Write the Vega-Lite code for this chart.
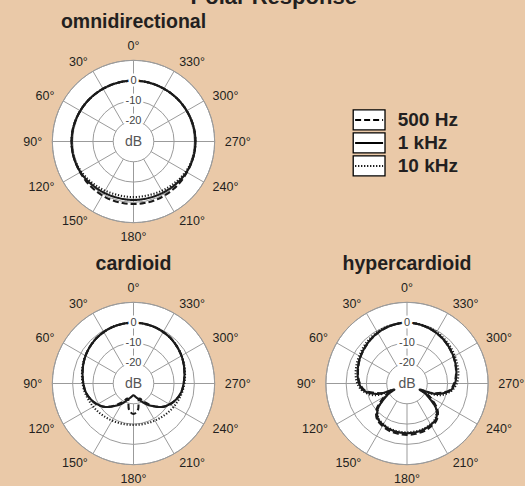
{
"$schema": "https://vega.github.io/schema/vega-lite/v6.json",
"background": "#EAC9A8",
"padding": {"left": 23, "top": -15, "right": 0, "bottom": 0},
"title": {"text": "Polar Response", "fontSize": 22, "fontWeight": "bold", "color": "#231F20", "anchor": "middle", "baseline": "alphabetic", "offset": -14},
"config": {"view": {"stroke": null}, "font": "Liberation Sans"},
"columns": 2,
"bounds": "flush",
"spacing": {"row": 31, "column": 62.5},
"datasets": {
"rings": [{"level": 10}, {"level": 0}, {"level": -10}, {"level": -20}],
"spokes": [{"angle": 0}, {"angle": 30}, {"angle": 60}, {"angle": 90}, {"angle": 120}, {"angle": 150}, {"angle": 180}, {"angle": 210}, {"angle": 240}, {"angle": 270}, {"angle": 300}, {"angle": 330}],
"angles": [{"angle": 0, "label": "0°"}, {"angle": 30, "label": "30°"}, {"angle": 60, "label": "60°"}, {"angle": 90, "label": "90°"}, {"angle": 120, "label": "120°"}, {"angle": 150, "label": "150°"}, {"angle": 180, "label": "180°"}, {"angle": 210, "label": "210°"}, {"angle": 240, "label": "240°"}, {"angle": 270, "label": "270°"}, {"angle": 300, "label": "300°"}, {"angle": 330, "label": "330°"}],
"levels": [{"level": 0, "text": "0"}, {"level": -10, "text": "-10"}, {"level": -20, "text": "-20"}],
"keys": [{"freq": "500 Hz"}, {"freq": "1 kHz"}, {"freq": "10 kHz"}],
"curves": [
{"pattern":"omni","freq":"500 Hz","angle":0,"dB":0},{"pattern":"omni","freq":"500 Hz","angle":10,"dB":0},{"pattern":"omni","freq":"500 Hz","angle":20,"dB":0},{"pattern":"omni","freq":"500 Hz","angle":30,"dB":0},{"pattern":"omni","freq":"500 Hz","angle":40,"dB":0.1},{"pattern":"omni","freq":"500 Hz","angle":50,"dB":0.2},{"pattern":"omni","freq":"500 Hz","angle":60,"dB":0.3},{"pattern":"omni","freq":"500 Hz","angle":70,"dB":0.4},{"pattern":"omni","freq":"500 Hz","angle":80,"dB":0.5},{"pattern":"omni","freq":"500 Hz","angle":90,"dB":0.5},{"pattern":"omni","freq":"500 Hz","angle":100,"dB":0.5},{"pattern":"omni","freq":"500 Hz","angle":110,"dB":0.4},{"pattern":"omni","freq":"500 Hz","angle":120,"dB":0.4},{"pattern":"omni","freq":"500 Hz","angle":130,"dB":0.5},{"pattern":"omni","freq":"500 Hz","angle":140,"dB":0.6},{"pattern":"omni","freq":"500 Hz","angle":150,"dB":0.7},{"pattern":"omni","freq":"500 Hz","angle":160,"dB":0.8},{"pattern":"omni","freq":"500 Hz","angle":170,"dB":0.8},{"pattern":"omni","freq":"500 Hz","angle":180,"dB":0.8},{"pattern":"omni","freq":"500 Hz","angle":190,"dB":0.8},{"pattern":"omni","freq":"500 Hz","angle":200,"dB":0.8},{"pattern":"omni","freq":"500 Hz","angle":210,"dB":0.7},{"pattern":"omni","freq":"500 Hz","angle":220,"dB":0.6},{"pattern":"omni","freq":"500 Hz","angle":230,"dB":0.5},{"pattern":"omni","freq":"500 Hz","angle":240,"dB":0.4},{"pattern":"omni","freq":"500 Hz","angle":250,"dB":0.4},{"pattern":"omni","freq":"500 Hz","angle":260,"dB":0.5},{"pattern":"omni","freq":"500 Hz","angle":270,"dB":0.5},{"pattern":"omni","freq":"500 Hz","angle":280,"dB":0.5},{"pattern":"omni","freq":"500 Hz","angle":290,"dB":0.4},{"pattern":"omni","freq":"500 Hz","angle":300,"dB":0.3},{"pattern":"omni","freq":"500 Hz","angle":310,"dB":0.2},{"pattern":"omni","freq":"500 Hz","angle":320,"dB":0.1},{"pattern":"omni","freq":"500 Hz","angle":330,"dB":0},{"pattern":"omni","freq":"500 Hz","angle":340,"dB":0},{"pattern":"omni","freq":"500 Hz","angle":350,"dB":0},
{"pattern":"omni","freq":"10 kHz","angle":0,"dB":0},{"pattern":"omni","freq":"10 kHz","angle":10,"dB":0},{"pattern":"omni","freq":"10 kHz","angle":20,"dB":0},{"pattern":"omni","freq":"10 kHz","angle":30,"dB":0},{"pattern":"omni","freq":"10 kHz","angle":40,"dB":0.1},{"pattern":"omni","freq":"10 kHz","angle":50,"dB":0.2},{"pattern":"omni","freq":"10 kHz","angle":60,"dB":0.3},{"pattern":"omni","freq":"10 kHz","angle":70,"dB":0.4},{"pattern":"omni","freq":"10 kHz","angle":80,"dB":0.5},{"pattern":"omni","freq":"10 kHz","angle":90,"dB":0.5},{"pattern":"omni","freq":"10 kHz","angle":100,"dB":0.5},{"pattern":"omni","freq":"10 kHz","angle":110,"dB":0.2},{"pattern":"omni","freq":"10 kHz","angle":120,"dB":-0.3},{"pattern":"omni","freq":"10 kHz","angle":130,"dB":-0.9},{"pattern":"omni","freq":"10 kHz","angle":140,"dB":-1.5},{"pattern":"omni","freq":"10 kHz","angle":150,"dB":-2.0},{"pattern":"omni","freq":"10 kHz","angle":160,"dB":-2.4},{"pattern":"omni","freq":"10 kHz","angle":170,"dB":-2.6},{"pattern":"omni","freq":"10 kHz","angle":180,"dB":-2.6},{"pattern":"omni","freq":"10 kHz","angle":190,"dB":-2.6},{"pattern":"omni","freq":"10 kHz","angle":200,"dB":-2.4},{"pattern":"omni","freq":"10 kHz","angle":210,"dB":-2.0},{"pattern":"omni","freq":"10 kHz","angle":220,"dB":-1.5},{"pattern":"omni","freq":"10 kHz","angle":230,"dB":-0.9},{"pattern":"omni","freq":"10 kHz","angle":240,"dB":-0.3},{"pattern":"omni","freq":"10 kHz","angle":250,"dB":0.2},{"pattern":"omni","freq":"10 kHz","angle":260,"dB":0.5},{"pattern":"omni","freq":"10 kHz","angle":270,"dB":0.5},{"pattern":"omni","freq":"10 kHz","angle":280,"dB":0.5},{"pattern":"omni","freq":"10 kHz","angle":290,"dB":0.4},{"pattern":"omni","freq":"10 kHz","angle":300,"dB":0.3},{"pattern":"omni","freq":"10 kHz","angle":310,"dB":0.2},{"pattern":"omni","freq":"10 kHz","angle":320,"dB":0.1},{"pattern":"omni","freq":"10 kHz","angle":330,"dB":0},{"pattern":"omni","freq":"10 kHz","angle":340,"dB":0},{"pattern":"omni","freq":"10 kHz","angle":350,"dB":0},
{"pattern":"omni","freq":"1 kHz","angle":0,"dB":0},{"pattern":"omni","freq":"1 kHz","angle":10,"dB":0},{"pattern":"omni","freq":"1 kHz","angle":20,"dB":0},{"pattern":"omni","freq":"1 kHz","angle":30,"dB":0},{"pattern":"omni","freq":"1 kHz","angle":40,"dB":0.1},{"pattern":"omni","freq":"1 kHz","angle":50,"dB":0.2},{"pattern":"omni","freq":"1 kHz","angle":60,"dB":0.3},{"pattern":"omni","freq":"1 kHz","angle":70,"dB":0.4},{"pattern":"omni","freq":"1 kHz","angle":80,"dB":0.5},{"pattern":"omni","freq":"1 kHz","angle":90,"dB":0.5},{"pattern":"omni","freq":"1 kHz","angle":100,"dB":0.5},{"pattern":"omni","freq":"1 kHz","angle":110,"dB":0.4},{"pattern":"omni","freq":"1 kHz","angle":120,"dB":0.2},{"pattern":"omni","freq":"1 kHz","angle":130,"dB":-0.2},{"pattern":"omni","freq":"1 kHz","angle":140,"dB":-0.6},{"pattern":"omni","freq":"1 kHz","angle":150,"dB":-0.9},{"pattern":"omni","freq":"1 kHz","angle":160,"dB":-1.1},{"pattern":"omni","freq":"1 kHz","angle":170,"dB":-1.2},{"pattern":"omni","freq":"1 kHz","angle":180,"dB":-1.2},{"pattern":"omni","freq":"1 kHz","angle":190,"dB":-1.2},{"pattern":"omni","freq":"1 kHz","angle":200,"dB":-1.1},{"pattern":"omni","freq":"1 kHz","angle":210,"dB":-0.9},{"pattern":"omni","freq":"1 kHz","angle":220,"dB":-0.6},{"pattern":"omni","freq":"1 kHz","angle":230,"dB":-0.2},{"pattern":"omni","freq":"1 kHz","angle":240,"dB":0.2},{"pattern":"omni","freq":"1 kHz","angle":250,"dB":0.4},{"pattern":"omni","freq":"1 kHz","angle":260,"dB":0.5},{"pattern":"omni","freq":"1 kHz","angle":270,"dB":0.5},{"pattern":"omni","freq":"1 kHz","angle":280,"dB":0.5},{"pattern":"omni","freq":"1 kHz","angle":290,"dB":0.4},{"pattern":"omni","freq":"1 kHz","angle":300,"dB":0.3},{"pattern":"omni","freq":"1 kHz","angle":310,"dB":0.2},{"pattern":"omni","freq":"1 kHz","angle":320,"dB":0.1},{"pattern":"omni","freq":"1 kHz","angle":330,"dB":0},{"pattern":"omni","freq":"1 kHz","angle":340,"dB":0},{"pattern":"omni","freq":"1 kHz","angle":350,"dB":0},
{"pattern":"card","freq":"500 Hz","angle":0,"dB":0},{"pattern":"card","freq":"500 Hz","angle":10,"dB":-0.1},{"pattern":"card","freq":"500 Hz","angle":20,"dB":-0.3},{"pattern":"card","freq":"500 Hz","angle":30,"dB":-0.7},{"pattern":"card","freq":"500 Hz","angle":40,"dB":-1.2},{"pattern":"card","freq":"500 Hz","angle":50,"dB":-1.9},{"pattern":"card","freq":"500 Hz","angle":60,"dB":-2.7},{"pattern":"card","freq":"500 Hz","angle":70,"dB":-3.6},{"pattern":"card","freq":"500 Hz","angle":80,"dB":-4.5},{"pattern":"card","freq":"500 Hz","angle":90,"dB":-5.3},{"pattern":"card","freq":"500 Hz","angle":100,"dB":-6.0},{"pattern":"card","freq":"500 Hz","angle":110,"dB":-7.4},{"pattern":"card","freq":"500 Hz","angle":120,"dB":-9.3},{"pattern":"card","freq":"500 Hz","angle":130,"dB":-12},{"pattern":"card","freq":"500 Hz","angle":140,"dB":-15.8},{"pattern":"card","freq":"500 Hz","angle":150,"dB":-19.5},{"pattern":"card","freq":"500 Hz","angle":160,"dB":-22},{"pattern":"card","freq":"500 Hz","angle":170,"dB":-17},{"pattern":"card","freq":"500 Hz","angle":180,"dB":-15},{"pattern":"card","freq":"500 Hz","angle":190,"dB":-17},{"pattern":"card","freq":"500 Hz","angle":200,"dB":-22},{"pattern":"card","freq":"500 Hz","angle":210,"dB":-19.5},{"pattern":"card","freq":"500 Hz","angle":220,"dB":-15.8},{"pattern":"card","freq":"500 Hz","angle":230,"dB":-12},{"pattern":"card","freq":"500 Hz","angle":240,"dB":-9.3},{"pattern":"card","freq":"500 Hz","angle":250,"dB":-7.4},{"pattern":"card","freq":"500 Hz","angle":260,"dB":-6.0},{"pattern":"card","freq":"500 Hz","angle":270,"dB":-5.3},{"pattern":"card","freq":"500 Hz","angle":280,"dB":-4.5},{"pattern":"card","freq":"500 Hz","angle":290,"dB":-3.6},{"pattern":"card","freq":"500 Hz","angle":300,"dB":-2.7},{"pattern":"card","freq":"500 Hz","angle":310,"dB":-1.9},{"pattern":"card","freq":"500 Hz","angle":320,"dB":-1.2},{"pattern":"card","freq":"500 Hz","angle":330,"dB":-0.7},{"pattern":"card","freq":"500 Hz","angle":340,"dB":-0.3},{"pattern":"card","freq":"500 Hz","angle":350,"dB":-0.1},
{"pattern":"card","freq":"10 kHz","angle":0,"dB":0},{"pattern":"card","freq":"10 kHz","angle":10,"dB":-0.1},{"pattern":"card","freq":"10 kHz","angle":20,"dB":-0.3},{"pattern":"card","freq":"10 kHz","angle":30,"dB":-0.7},{"pattern":"card","freq":"10 kHz","angle":40,"dB":-1.2},{"pattern":"card","freq":"10 kHz","angle":50,"dB":-1.9},{"pattern":"card","freq":"10 kHz","angle":60,"dB":-2.6},{"pattern":"card","freq":"10 kHz","angle":70,"dB":-3.4},{"pattern":"card","freq":"10 kHz","angle":80,"dB":-4.2},{"pattern":"card","freq":"10 kHz","angle":90,"dB":-4.9},{"pattern":"card","freq":"10 kHz","angle":100,"dB":-5.6},{"pattern":"card","freq":"10 kHz","angle":110,"dB":-6.4},{"pattern":"card","freq":"10 kHz","angle":120,"dB":-7.1},{"pattern":"card","freq":"10 kHz","angle":130,"dB":-7.8},{"pattern":"card","freq":"10 kHz","angle":140,"dB":-8.4},{"pattern":"card","freq":"10 kHz","angle":150,"dB":-8.9},{"pattern":"card","freq":"10 kHz","angle":160,"dB":-9.3},{"pattern":"card","freq":"10 kHz","angle":170,"dB":-9.5},{"pattern":"card","freq":"10 kHz","angle":180,"dB":-9.6},{"pattern":"card","freq":"10 kHz","angle":190,"dB":-9.5},{"pattern":"card","freq":"10 kHz","angle":200,"dB":-9.3},{"pattern":"card","freq":"10 kHz","angle":210,"dB":-8.9},{"pattern":"card","freq":"10 kHz","angle":220,"dB":-8.4},{"pattern":"card","freq":"10 kHz","angle":230,"dB":-7.8},{"pattern":"card","freq":"10 kHz","angle":240,"dB":-7.1},{"pattern":"card","freq":"10 kHz","angle":250,"dB":-6.4},{"pattern":"card","freq":"10 kHz","angle":260,"dB":-5.6},{"pattern":"card","freq":"10 kHz","angle":270,"dB":-4.9},{"pattern":"card","freq":"10 kHz","angle":280,"dB":-4.2},{"pattern":"card","freq":"10 kHz","angle":290,"dB":-3.4},{"pattern":"card","freq":"10 kHz","angle":300,"dB":-2.6},{"pattern":"card","freq":"10 kHz","angle":310,"dB":-1.9},{"pattern":"card","freq":"10 kHz","angle":320,"dB":-1.2},{"pattern":"card","freq":"10 kHz","angle":330,"dB":-0.7},{"pattern":"card","freq":"10 kHz","angle":340,"dB":-0.3},{"pattern":"card","freq":"10 kHz","angle":350,"dB":-0.1},
{"pattern":"card","freq":"1 kHz","angle":0,"dB":0},{"pattern":"card","freq":"1 kHz","angle":10,"dB":-0.1},{"pattern":"card","freq":"1 kHz","angle":20,"dB":-0.3},{"pattern":"card","freq":"1 kHz","angle":30,"dB":-0.7},{"pattern":"card","freq":"1 kHz","angle":40,"dB":-1.2},{"pattern":"card","freq":"1 kHz","angle":50,"dB":-1.9},{"pattern":"card","freq":"1 kHz","angle":60,"dB":-2.7},{"pattern":"card","freq":"1 kHz","angle":70,"dB":-3.6},{"pattern":"card","freq":"1 kHz","angle":80,"dB":-4.5},{"pattern":"card","freq":"1 kHz","angle":90,"dB":-5.3},{"pattern":"card","freq":"1 kHz","angle":100,"dB":-6.1},{"pattern":"card","freq":"1 kHz","angle":110,"dB":-7.5},{"pattern":"card","freq":"1 kHz","angle":120,"dB":-9.5},{"pattern":"card","freq":"1 kHz","angle":130,"dB":-12},{"pattern":"card","freq":"1 kHz","angle":140,"dB":-15.5},{"pattern":"card","freq":"1 kHz","angle":150,"dB":-18.5},{"pattern":"card","freq":"1 kHz","angle":160,"dB":-21.4},{"pattern":"card","freq":"1 kHz","angle":170,"dB":-23.2},{"pattern":"card","freq":"1 kHz","angle":180,"dB":-24.2},{"pattern":"card","freq":"1 kHz","angle":190,"dB":-23.2},{"pattern":"card","freq":"1 kHz","angle":200,"dB":-21.4},{"pattern":"card","freq":"1 kHz","angle":210,"dB":-18.5},{"pattern":"card","freq":"1 kHz","angle":220,"dB":-15.5},{"pattern":"card","freq":"1 kHz","angle":230,"dB":-12},{"pattern":"card","freq":"1 kHz","angle":240,"dB":-9.5},{"pattern":"card","freq":"1 kHz","angle":250,"dB":-7.5},{"pattern":"card","freq":"1 kHz","angle":260,"dB":-6.1},{"pattern":"card","freq":"1 kHz","angle":270,"dB":-5.3},{"pattern":"card","freq":"1 kHz","angle":280,"dB":-4.5},{"pattern":"card","freq":"1 kHz","angle":290,"dB":-3.6},{"pattern":"card","freq":"1 kHz","angle":300,"dB":-2.7},{"pattern":"card","freq":"1 kHz","angle":310,"dB":-1.9},{"pattern":"card","freq":"1 kHz","angle":320,"dB":-1.2},{"pattern":"card","freq":"1 kHz","angle":330,"dB":-0.7},{"pattern":"card","freq":"1 kHz","angle":340,"dB":-0.3},{"pattern":"card","freq":"1 kHz","angle":350,"dB":-0.1},
{"pattern":"hyper","freq":"500 Hz","angle":0,"dB":0},{"pattern":"hyper","freq":"500 Hz","angle":10,"dB":-0.2},{"pattern":"hyper","freq":"500 Hz","angle":20,"dB":-0.6},{"pattern":"hyper","freq":"500 Hz","angle":30,"dB":-1.2},{"pattern":"hyper","freq":"500 Hz","angle":40,"dB":-1.9},{"pattern":"hyper","freq":"500 Hz","angle":50,"dB":-2.8},{"pattern":"hyper","freq":"500 Hz","angle":60,"dB":-3.6},{"pattern":"hyper","freq":"500 Hz","angle":70,"dB":-4.5},{"pattern":"hyper","freq":"500 Hz","angle":80,"dB":-5.5},{"pattern":"hyper","freq":"500 Hz","angle":90,"dB":-6.8},{"pattern":"hyper","freq":"500 Hz","angle":100,"dB":-9.2},{"pattern":"hyper","freq":"500 Hz","angle":110,"dB":-16},{"pattern":"hyper","freq":"500 Hz","angle":115,"dB":-22},{"pattern":"hyper","freq":"500 Hz","angle":120,"dB":-17},{"pattern":"hyper","freq":"500 Hz","angle":130,"dB":-10.5},{"pattern":"hyper","freq":"500 Hz","angle":140,"dB":-7},{"pattern":"hyper","freq":"500 Hz","angle":150,"dB":-5.8},{"pattern":"hyper","freq":"500 Hz","angle":160,"dB":-5.1},{"pattern":"hyper","freq":"500 Hz","angle":170,"dB":-4.8},{"pattern":"hyper","freq":"500 Hz","angle":180,"dB":-4.7},{"pattern":"hyper","freq":"500 Hz","angle":190,"dB":-4.8},{"pattern":"hyper","freq":"500 Hz","angle":200,"dB":-5.1},{"pattern":"hyper","freq":"500 Hz","angle":210,"dB":-5.8},{"pattern":"hyper","freq":"500 Hz","angle":220,"dB":-7},{"pattern":"hyper","freq":"500 Hz","angle":230,"dB":-10.5},{"pattern":"hyper","freq":"500 Hz","angle":240,"dB":-17},{"pattern":"hyper","freq":"500 Hz","angle":245,"dB":-22},{"pattern":"hyper","freq":"500 Hz","angle":250,"dB":-16},{"pattern":"hyper","freq":"500 Hz","angle":260,"dB":-9.2},{"pattern":"hyper","freq":"500 Hz","angle":270,"dB":-6.8},{"pattern":"hyper","freq":"500 Hz","angle":280,"dB":-5.5},{"pattern":"hyper","freq":"500 Hz","angle":290,"dB":-4.5},{"pattern":"hyper","freq":"500 Hz","angle":300,"dB":-3.6},{"pattern":"hyper","freq":"500 Hz","angle":310,"dB":-2.8},{"pattern":"hyper","freq":"500 Hz","angle":320,"dB":-1.9},{"pattern":"hyper","freq":"500 Hz","angle":330,"dB":-1.2},{"pattern":"hyper","freq":"500 Hz","angle":340,"dB":-0.6},{"pattern":"hyper","freq":"500 Hz","angle":350,"dB":-0.2},
{"pattern":"hyper","freq":"10 kHz","angle":0,"dB":0},{"pattern":"hyper","freq":"10 kHz","angle":10,"dB":-0.1},{"pattern":"hyper","freq":"10 kHz","angle":20,"dB":-0.3},{"pattern":"hyper","freq":"10 kHz","angle":30,"dB":-0.7},{"pattern":"hyper","freq":"10 kHz","angle":40,"dB":-1.3},{"pattern":"hyper","freq":"10 kHz","angle":50,"dB":-2},{"pattern":"hyper","freq":"10 kHz","angle":60,"dB":-2.8},{"pattern":"hyper","freq":"10 kHz","angle":70,"dB":-3.5},{"pattern":"hyper","freq":"10 kHz","angle":80,"dB":-4.3},{"pattern":"hyper","freq":"10 kHz","angle":90,"dB":-5.5},{"pattern":"hyper","freq":"10 kHz","angle":100,"dB":-8},{"pattern":"hyper","freq":"10 kHz","angle":110,"dB":-13},{"pattern":"hyper","freq":"10 kHz","angle":115,"dB":-20},{"pattern":"hyper","freq":"10 kHz","angle":120,"dB":-18},{"pattern":"hyper","freq":"10 kHz","angle":130,"dB":-11.5},{"pattern":"hyper","freq":"10 kHz","angle":140,"dB":-8},{"pattern":"hyper","freq":"10 kHz","angle":150,"dB":-6.8},{"pattern":"hyper","freq":"10 kHz","angle":160,"dB":-6.2},{"pattern":"hyper","freq":"10 kHz","angle":170,"dB":-6},{"pattern":"hyper","freq":"10 kHz","angle":180,"dB":-5.9},{"pattern":"hyper","freq":"10 kHz","angle":190,"dB":-6},{"pattern":"hyper","freq":"10 kHz","angle":200,"dB":-6.2},{"pattern":"hyper","freq":"10 kHz","angle":210,"dB":-6.8},{"pattern":"hyper","freq":"10 kHz","angle":220,"dB":-8},{"pattern":"hyper","freq":"10 kHz","angle":230,"dB":-11.5},{"pattern":"hyper","freq":"10 kHz","angle":240,"dB":-18},{"pattern":"hyper","freq":"10 kHz","angle":245,"dB":-20},{"pattern":"hyper","freq":"10 kHz","angle":250,"dB":-13},{"pattern":"hyper","freq":"10 kHz","angle":260,"dB":-8},{"pattern":"hyper","freq":"10 kHz","angle":270,"dB":-5.5},{"pattern":"hyper","freq":"10 kHz","angle":280,"dB":-4.3},{"pattern":"hyper","freq":"10 kHz","angle":290,"dB":-3.5},{"pattern":"hyper","freq":"10 kHz","angle":300,"dB":-2.8},{"pattern":"hyper","freq":"10 kHz","angle":310,"dB":-2},{"pattern":"hyper","freq":"10 kHz","angle":320,"dB":-1.3},{"pattern":"hyper","freq":"10 kHz","angle":330,"dB":-0.7},{"pattern":"hyper","freq":"10 kHz","angle":340,"dB":-0.3},{"pattern":"hyper","freq":"10 kHz","angle":350,"dB":-0.1},
{"pattern":"hyper","freq":"1 kHz","angle":0,"dB":0},{"pattern":"hyper","freq":"1 kHz","angle":10,"dB":-0.2},{"pattern":"hyper","freq":"1 kHz","angle":20,"dB":-0.6},{"pattern":"hyper","freq":"1 kHz","angle":30,"dB":-1.2},{"pattern":"hyper","freq":"1 kHz","angle":40,"dB":-1.9},{"pattern":"hyper","freq":"1 kHz","angle":50,"dB":-2.7},{"pattern":"hyper","freq":"1 kHz","angle":60,"dB":-3.5},{"pattern":"hyper","freq":"1 kHz","angle":70,"dB":-4.4},{"pattern":"hyper","freq":"1 kHz","angle":80,"dB":-5.3},{"pattern":"hyper","freq":"1 kHz","angle":90,"dB":-6.4},{"pattern":"hyper","freq":"1 kHz","angle":100,"dB":-8.7},{"pattern":"hyper","freq":"1 kHz","angle":110,"dB":-15},{"pattern":"hyper","freq":"1 kHz","angle":115,"dB":-23},{"pattern":"hyper","freq":"1 kHz","angle":120,"dB":-19},{"pattern":"hyper","freq":"1 kHz","angle":130,"dB":-11.5},{"pattern":"hyper","freq":"1 kHz","angle":140,"dB":-7.6},{"pattern":"hyper","freq":"1 kHz","angle":150,"dB":-6.5},{"pattern":"hyper","freq":"1 kHz","angle":160,"dB":-5.9},{"pattern":"hyper","freq":"1 kHz","angle":170,"dB":-5.6},{"pattern":"hyper","freq":"1 kHz","angle":180,"dB":-5.5},{"pattern":"hyper","freq":"1 kHz","angle":190,"dB":-5.6},{"pattern":"hyper","freq":"1 kHz","angle":200,"dB":-5.9},{"pattern":"hyper","freq":"1 kHz","angle":210,"dB":-6.5},{"pattern":"hyper","freq":"1 kHz","angle":220,"dB":-7.6},{"pattern":"hyper","freq":"1 kHz","angle":230,"dB":-11.5},{"pattern":"hyper","freq":"1 kHz","angle":240,"dB":-19},{"pattern":"hyper","freq":"1 kHz","angle":245,"dB":-23},{"pattern":"hyper","freq":"1 kHz","angle":250,"dB":-15},{"pattern":"hyper","freq":"1 kHz","angle":260,"dB":-8.7},{"pattern":"hyper","freq":"1 kHz","angle":270,"dB":-6.4},{"pattern":"hyper","freq":"1 kHz","angle":280,"dB":-5.3},{"pattern":"hyper","freq":"1 kHz","angle":290,"dB":-4.4},{"pattern":"hyper","freq":"1 kHz","angle":300,"dB":-3.5},{"pattern":"hyper","freq":"1 kHz","angle":310,"dB":-2.7},{"pattern":"hyper","freq":"1 kHz","angle":320,"dB":-1.9},{"pattern":"hyper","freq":"1 kHz","angle":330,"dB":-1.2},{"pattern":"hyper","freq":"1 kHz","angle":340,"dB":-0.6},{"pattern":"hyper","freq":"1 kHz","angle":350,"dB":-0.2}
]
},
"concat": [
{
"title": {"text": "omnidirectional", "fontSize": 19.5, "fontWeight": "bold", "color": "#231F20", "baseline": "alphabetic", "offset": -11},
"width": 211, "height": 211,
"layer": [
{"data": {"name": "rings"}, "transform": [{"filter": "datum.level == 10"}, {"calculate": "datum.level + 30", "as": "rr"}], "mark": {"type": "point", "shape": "circle", "filled": true, "fill": "white", "stroke": "#9B9B9B", "strokeWidth": 1, "opacity": 1}, "encoding": {"x": {"datum": 0, "type": "quantitative", "scale": {"domain": [-52, 52], "nice": false, "zero": false}, "axis": null}, "y": {"datum": 0, "type": "quantitative", "scale": {"domain": [-52, 52], "nice": false, "zero": false}, "axis": null}, "size": {"field": "rr", "type": "quantitative", "scale": {"type": "pow", "exponent": 2, "domain": [0, 52], "range": [0, 44521], "zero": true}, "legend": null}}},
{"data": {"name": "rings"}, "transform": [{"calculate": "datum.level + 30", "as": "rr"}], "mark": {"type": "point", "shape": "circle", "filled": false, "stroke": "#9B9B9B", "strokeWidth": 1, "opacity": 1}, "encoding": {"x": {"datum": 0, "type": "quantitative", "axis": null}, "y": {"datum": 0, "type": "quantitative", "axis": null}, "size": {"field": "rr", "type": "quantitative", "scale": {"type": "pow", "exponent": 2, "domain": [0, 52], "range": [0, 44521], "zero": true}, "legend": null}}},
{"data": {"name": "spokes"}, "transform": [{"calculate": "-10*sin(datum.angle*PI/180)", "as": "x"}, {"calculate": "10*cos(datum.angle*PI/180)", "as": "y"}, {"calculate": "-40*sin(datum.angle*PI/180)", "as": "x2"}, {"calculate": "40*cos(datum.angle*PI/180)", "as": "y2"}], "mark": {"type": "rule", "stroke": "#9B9B9B", "strokeWidth": 1}, "encoding": {"x": {"field": "x", "type": "quantitative", "axis": null}, "y": {"field": "y", "type": "quantitative", "axis": null}, "x2": {"field": "x2"}, "y2": {"field": "y2"}}},
{"data": {"name": "curves"}, "transform": [{"filter": "datum.pattern == 'omni'"}, {"calculate": "-(datum.dB+30)*sin(datum.angle*PI/180)", "as": "x"}, {"calculate": "(datum.dB+30)*cos(datum.angle*PI/180)", "as": "y"}], "mark": {"type": "line", "interpolate": "cardinal-closed", "stroke": "#1A1A1A", "strokeWidth": 2.1},
 "encoding": {"x": {"field": "x", "type": "quantitative", "axis": null}, "y": {"field": "y", "type": "quantitative", "axis": null}, "order": {"field": "angle", "type": "quantitative"},
  "strokeDash": {"field": "freq", "type": "nominal", "scale": {"domain": ["500 Hz", "1 kHz", "10 kHz"], "range": [[6, 3], [1, 0], [1.2, 1.8]]}, "legend": null}}},
{"data": {"name": "levels"}, "transform": [{"calculate": "datum.level + 30", "as": "y"}], "mark": {"type": "text", "fontSize": 11, "fill": "white", "stroke": "white", "strokeWidth": 5, "strokeJoin": "round", "baseline": "middle"}, "encoding": {"x": {"datum": 0, "type": "quantitative", "axis": null}, "y": {"field": "y", "type": "quantitative", "axis": null}, "text": {"field": "text"}}},
{"data": {"name": "levels"}, "transform": [{"calculate": "datum.level + 30", "as": "y"}], "mark": {"type": "text", "fontSize": 11, "fill": "#444444", "baseline": "middle"}, "encoding": {"x": {"datum": 0, "type": "quantitative", "axis": null}, "y": {"field": "y", "type": "quantitative", "axis": null}, "text": {"field": "text"}}},
{"data": {"values": [{"t": "dB"}]}, "mark": {"type": "text", "fontSize": 14, "fill": "#555555", "baseline": "middle"}, "encoding": {"x": {"datum": 0, "type": "quantitative", "axis": null}, "y": {"datum": 0, "type": "quantitative", "axis": null}, "text": {"field": "t"}}},
{"data": {"name": "angles"}, "transform": [{"filter": "datum.angle > 0 && datum.angle < 180"}, {"calculate": "-45*sin(datum.angle*PI/180)", "as": "x"}, {"calculate": "45*cos(datum.angle*PI/180)", "as": "y"}], "mark": {"type": "text", "fontSize": 12.5, "fill": "#231F20", "align": "right", "baseline": "middle"}, "encoding": {"x": {"field": "x", "type": "quantitative", "axis": null}, "y": {"field": "y", "type": "quantitative", "axis": null}, "text": {"field": "label"}}},
{"data": {"name": "angles"}, "transform": [{"filter": "datum.angle > 180"}, {"calculate": "-45*sin(datum.angle*PI/180)", "as": "x"}, {"calculate": "45*cos(datum.angle*PI/180)", "as": "y"}], "mark": {"type": "text", "fontSize": 12.5, "fill": "#231F20", "align": "left", "baseline": "middle"}, "encoding": {"x": {"field": "x", "type": "quantitative", "axis": null}, "y": {"field": "y", "type": "quantitative", "axis": null}, "text": {"field": "label"}}},
{"data": {"name": "angles"}, "transform": [{"filter": "datum.angle == 0 || datum.angle == 180"}, {"calculate": "-47*sin(datum.angle*PI/180)", "as": "x"}, {"calculate": "47*cos(datum.angle*PI/180)", "as": "y"}], "mark": {"type": "text", "fontSize": 12.5, "fill": "#231F20", "align": "center", "baseline": "middle"}, "encoding": {"x": {"field": "x", "type": "quantitative", "axis": null}, "y": {"field": "y", "type": "quantitative", "axis": null}, "text": {"field": "label"}}}
]
},
{
"width": 211, "height": 211,
"data": {"name": "keys"},
"layer": [
{"mark": {"type": "rect", "fill": "white", "stroke": "black", "strokeWidth": 1.3},
 "encoding": {"x": {"datum": 0, "type": "quantitative", "scale": {"domain": [-1.626, 5.009], "nice": false, "zero": false}, "axis": null}, "x2": {"datum": 1}, "y": {"field": "freq", "type": "nominal", "sort": ["500 Hz", "1 kHz", "10 kHz"], "scale": {"type": "band", "domain": ["500 Hz", "1 kHz", "10 kHz"], "range": [73.9, 139.9], "paddingInner": 0.13, "paddingOuter": 0}, "axis": null}}},
{"mark": {"type": "rule", "stroke": "black", "strokeWidth": 2},
 "encoding": {"x": {"datum": 0.06, "type": "quantitative", "axis": null}, "x2": {"datum": 0.94}, "y": {"field": "freq", "type": "nominal", "bandPosition": 0.5, "axis": null}, "strokeDash": {"field": "freq", "type": "nominal", "scale": {"domain": ["500 Hz", "1 kHz", "10 kHz"], "range": [[6, 3], [1, 0], [1.2, 1.8]]}, "legend": null}}},
{"mark": {"type": "text", "align": "left", "baseline": "middle", "fontSize": 19, "fontWeight": "bold", "fill": "#231F20"},
 "encoding": {"x": {"datum": 1.4, "type": "quantitative", "axis": null}, "y": {"field": "freq", "type": "nominal", "bandPosition": 0.5, "axis": null}, "text": {"field": "freq"}}}
]
},
{
"title": {"text": "cardioid", "fontSize": 19.5, "fontWeight": "bold", "color": "#231F20", "baseline": "alphabetic", "offset": -11},
"width": 211, "height": 211,
"layer": [
{"data": {"name": "rings"}, "transform": [{"filter": "datum.level == 10"}, {"calculate": "datum.level + 30", "as": "rr"}], "mark": {"type": "point", "shape": "circle", "filled": true, "fill": "white", "stroke": "#9B9B9B", "strokeWidth": 1, "opacity": 1}, "encoding": {"x": {"datum": 0, "type": "quantitative", "scale": {"domain": [-52, 52], "nice": false, "zero": false}, "axis": null}, "y": {"datum": 0, "type": "quantitative", "scale": {"domain": [-52, 52], "nice": false, "zero": false}, "axis": null}, "size": {"field": "rr", "type": "quantitative", "scale": {"type": "pow", "exponent": 2, "domain": [0, 52], "range": [0, 44521], "zero": true}, "legend": null}}},
{"data": {"name": "rings"}, "transform": [{"calculate": "datum.level + 30", "as": "rr"}], "mark": {"type": "point", "shape": "circle", "filled": false, "stroke": "#9B9B9B", "strokeWidth": 1, "opacity": 1}, "encoding": {"x": {"datum": 0, "type": "quantitative", "axis": null}, "y": {"datum": 0, "type": "quantitative", "axis": null}, "size": {"field": "rr", "type": "quantitative", "scale": {"type": "pow", "exponent": 2, "domain": [0, 52], "range": [0, 44521], "zero": true}, "legend": null}}},
{"data": {"name": "spokes"}, "transform": [{"calculate": "-10*sin(datum.angle*PI/180)", "as": "x"}, {"calculate": "10*cos(datum.angle*PI/180)", "as": "y"}, {"calculate": "-40*sin(datum.angle*PI/180)", "as": "x2"}, {"calculate": "40*cos(datum.angle*PI/180)", "as": "y2"}], "mark": {"type": "rule", "stroke": "#9B9B9B", "strokeWidth": 1}, "encoding": {"x": {"field": "x", "type": "quantitative", "axis": null}, "y": {"field": "y", "type": "quantitative", "axis": null}, "x2": {"field": "x2"}, "y2": {"field": "y2"}}},
{"data": {"name": "curves"}, "transform": [{"filter": "datum.pattern == 'card'"}, {"calculate": "-(datum.dB+30)*sin(datum.angle*PI/180)", "as": "x"}, {"calculate": "(datum.dB+30)*cos(datum.angle*PI/180)", "as": "y"}], "mark": {"type": "line", "interpolate": "cardinal-closed", "stroke": "#1A1A1A", "strokeWidth": 2.1},
 "encoding": {"x": {"field": "x", "type": "quantitative", "axis": null}, "y": {"field": "y", "type": "quantitative", "axis": null}, "order": {"field": "angle", "type": "quantitative"},
  "strokeDash": {"field": "freq", "type": "nominal", "scale": {"domain": ["500 Hz", "1 kHz", "10 kHz"], "range": [[6, 3], [1, 0], [1.2, 1.8]]}, "legend": null}}},
{"data": {"name": "levels"}, "transform": [{"calculate": "datum.level + 30", "as": "y"}], "mark": {"type": "text", "fontSize": 11, "fill": "white", "stroke": "white", "strokeWidth": 5, "strokeJoin": "round", "baseline": "middle"}, "encoding": {"x": {"datum": 0, "type": "quantitative", "axis": null}, "y": {"field": "y", "type": "quantitative", "axis": null}, "text": {"field": "text"}}},
{"data": {"name": "levels"}, "transform": [{"calculate": "datum.level + 30", "as": "y"}], "mark": {"type": "text", "fontSize": 11, "fill": "#444444", "baseline": "middle"}, "encoding": {"x": {"datum": 0, "type": "quantitative", "axis": null}, "y": {"field": "y", "type": "quantitative", "axis": null}, "text": {"field": "text"}}},
{"data": {"values": [{"t": "dB"}]}, "mark": {"type": "text", "fontSize": 14, "fill": "#555555", "baseline": "middle"}, "encoding": {"x": {"datum": 0, "type": "quantitative", "axis": null}, "y": {"datum": 0, "type": "quantitative", "axis": null}, "text": {"field": "t"}}},
{"data": {"name": "angles"}, "transform": [{"filter": "datum.angle > 0 && datum.angle < 180"}, {"calculate": "-45*sin(datum.angle*PI/180)", "as": "x"}, {"calculate": "45*cos(datum.angle*PI/180)", "as": "y"}], "mark": {"type": "text", "fontSize": 12.5, "fill": "#231F20", "align": "right", "baseline": "middle"}, "encoding": {"x": {"field": "x", "type": "quantitative", "axis": null}, "y": {"field": "y", "type": "quantitative", "axis": null}, "text": {"field": "label"}}},
{"data": {"name": "angles"}, "transform": [{"filter": "datum.angle > 180"}, {"calculate": "-45*sin(datum.angle*PI/180)", "as": "x"}, {"calculate": "45*cos(datum.angle*PI/180)", "as": "y"}], "mark": {"type": "text", "fontSize": 12.5, "fill": "#231F20", "align": "left", "baseline": "middle"}, "encoding": {"x": {"field": "x", "type": "quantitative", "axis": null}, "y": {"field": "y", "type": "quantitative", "axis": null}, "text": {"field": "label"}}},
{"data": {"name": "angles"}, "transform": [{"filter": "datum.angle == 0 || datum.angle == 180"}, {"calculate": "-47*sin(datum.angle*PI/180)", "as": "x"}, {"calculate": "47*cos(datum.angle*PI/180)", "as": "y"}], "mark": {"type": "text", "fontSize": 12.5, "fill": "#231F20", "align": "center", "baseline": "middle"}, "encoding": {"x": {"field": "x", "type": "quantitative", "axis": null}, "y": {"field": "y", "type": "quantitative", "axis": null}, "text": {"field": "label"}}}
]
},
{
"title": {"text": "hypercardioid", "fontSize": 19.5, "fontWeight": "bold", "color": "#231F20", "baseline": "alphabetic", "offset": -11},
"width": 211, "height": 211,
"layer": [
{"data": {"name": "rings"}, "transform": [{"filter": "datum.level == 10"}, {"calculate": "datum.level + 30", "as": "rr"}], "mark": {"type": "point", "shape": "circle", "filled": true, "fill": "white", "stroke": "#9B9B9B", "strokeWidth": 1, "opacity": 1}, "encoding": {"x": {"datum": 0, "type": "quantitative", "scale": {"domain": [-52, 52], "nice": false, "zero": false}, "axis": null}, "y": {"datum": 0, "type": "quantitative", "scale": {"domain": [-52, 52], "nice": false, "zero": false}, "axis": null}, "size": {"field": "rr", "type": "quantitative", "scale": {"type": "pow", "exponent": 2, "domain": [0, 52], "range": [0, 44521], "zero": true}, "legend": null}}},
{"data": {"name": "rings"}, "transform": [{"calculate": "datum.level + 30", "as": "rr"}], "mark": {"type": "point", "shape": "circle", "filled": false, "stroke": "#9B9B9B", "strokeWidth": 1, "opacity": 1}, "encoding": {"x": {"datum": 0, "type": "quantitative", "axis": null}, "y": {"datum": 0, "type": "quantitative", "axis": null}, "size": {"field": "rr", "type": "quantitative", "scale": {"type": "pow", "exponent": 2, "domain": [0, 52], "range": [0, 44521], "zero": true}, "legend": null}}},
{"data": {"name": "spokes"}, "transform": [{"calculate": "-10*sin(datum.angle*PI/180)", "as": "x"}, {"calculate": "10*cos(datum.angle*PI/180)", "as": "y"}, {"calculate": "-40*sin(datum.angle*PI/180)", "as": "x2"}, {"calculate": "40*cos(datum.angle*PI/180)", "as": "y2"}], "mark": {"type": "rule", "stroke": "#9B9B9B", "strokeWidth": 1}, "encoding": {"x": {"field": "x", "type": "quantitative", "axis": null}, "y": {"field": "y", "type": "quantitative", "axis": null}, "x2": {"field": "x2"}, "y2": {"field": "y2"}}},
{"data": {"name": "curves"}, "transform": [{"filter": "datum.pattern == 'hyper'"}, {"calculate": "-(datum.dB+30)*sin(datum.angle*PI/180)", "as": "x"}, {"calculate": "(datum.dB+30)*cos(datum.angle*PI/180)", "as": "y"}], "mark": {"type": "line", "interpolate": "cardinal-closed", "stroke": "#1A1A1A", "strokeWidth": 2.1},
 "encoding": {"x": {"field": "x", "type": "quantitative", "axis": null}, "y": {"field": "y", "type": "quantitative", "axis": null}, "order": {"field": "angle", "type": "quantitative"},
  "strokeDash": {"field": "freq", "type": "nominal", "scale": {"domain": ["500 Hz", "1 kHz", "10 kHz"], "range": [[6, 3], [1, 0], [1.2, 1.8]]}, "legend": null}}},
{"data": {"name": "levels"}, "transform": [{"calculate": "datum.level + 30", "as": "y"}], "mark": {"type": "text", "fontSize": 11, "fill": "white", "stroke": "white", "strokeWidth": 5, "strokeJoin": "round", "baseline": "middle"}, "encoding": {"x": {"datum": 0, "type": "quantitative", "axis": null}, "y": {"field": "y", "type": "quantitative", "axis": null}, "text": {"field": "text"}}},
{"data": {"name": "levels"}, "transform": [{"calculate": "datum.level + 30", "as": "y"}], "mark": {"type": "text", "fontSize": 11, "fill": "#444444", "baseline": "middle"}, "encoding": {"x": {"datum": 0, "type": "quantitative", "axis": null}, "y": {"field": "y", "type": "quantitative", "axis": null}, "text": {"field": "text"}}},
{"data": {"values": [{"t": "dB"}]}, "mark": {"type": "text", "fontSize": 14, "fill": "#555555", "baseline": "middle"}, "encoding": {"x": {"datum": 0, "type": "quantitative", "axis": null}, "y": {"datum": 0, "type": "quantitative", "axis": null}, "text": {"field": "t"}}},
{"data": {"name": "angles"}, "transform": [{"filter": "datum.angle > 0 && datum.angle < 180"}, {"calculate": "-45*sin(datum.angle*PI/180)", "as": "x"}, {"calculate": "45*cos(datum.angle*PI/180)", "as": "y"}], "mark": {"type": "text", "fontSize": 12.5, "fill": "#231F20", "align": "right", "baseline": "middle"}, "encoding": {"x": {"field": "x", "type": "quantitative", "axis": null}, "y": {"field": "y", "type": "quantitative", "axis": null}, "text": {"field": "label"}}},
{"data": {"name": "angles"}, "transform": [{"filter": "datum.angle > 180"}, {"calculate": "-45*sin(datum.angle*PI/180)", "as": "x"}, {"calculate": "45*cos(datum.angle*PI/180)", "as": "y"}], "mark": {"type": "text", "fontSize": 12.5, "fill": "#231F20", "align": "left", "baseline": "middle"}, "encoding": {"x": {"field": "x", "type": "quantitative", "axis": null}, "y": {"field": "y", "type": "quantitative", "axis": null}, "text": {"field": "label"}}},
{"data": {"name": "angles"}, "transform": [{"filter": "datum.angle == 0 || datum.angle == 180"}, {"calculate": "-47*sin(datum.angle*PI/180)", "as": "x"}, {"calculate": "47*cos(datum.angle*PI/180)", "as": "y"}], "mark": {"type": "text", "fontSize": 12.5, "fill": "#231F20", "align": "center", "baseline": "middle"}, "encoding": {"x": {"field": "x", "type": "quantitative", "axis": null}, "y": {"field": "y", "type": "quantitative", "axis": null}, "text": {"field": "label"}}}
]
}
]
}
